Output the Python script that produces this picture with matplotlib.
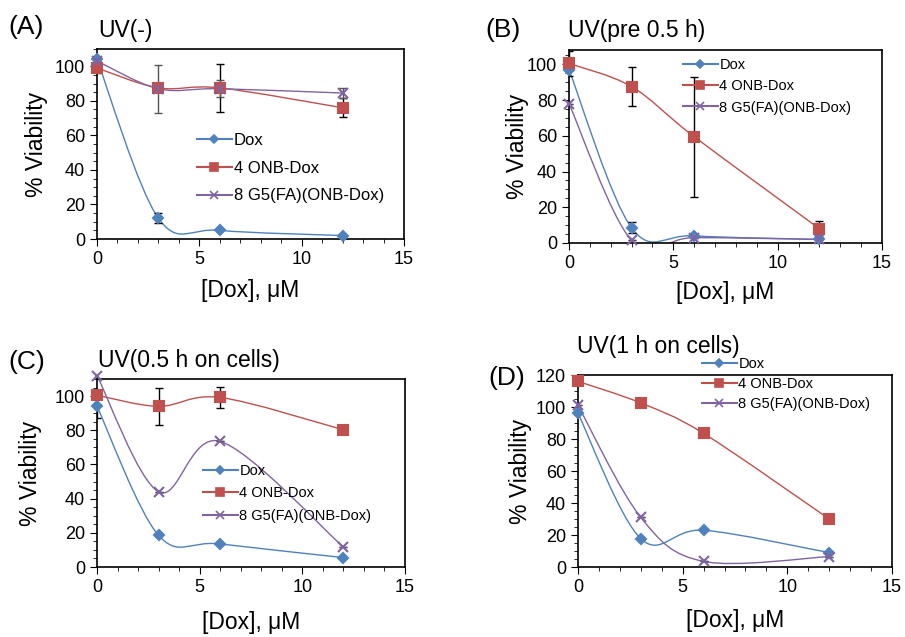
import matplotlib
matplotlib.use("Agg")
import matplotlib.pyplot as plt
from matplotlib.path import Path
from matplotlib.patches import PathPatch
from matplotlib.lines import Line2D
import matplotlib.ticker as ticker
import numpy as np

plt.rcParams['font.family'] = ['Liberation Sans', 'DejaVu Sans']

# --- data
dox_conc = [0, 3, 6, 12]

a_dox = [104, 12, 5, 2]
a_dox_err = [0, 3, 0, 0]
a_onb = [99, 87.5, 87.5, 76]
a_onb_err = [3, 0, 14, 5.5]
a_g5 = [103, 87, 87, 84.5]
a_g5_err = [0, 14, 5, 3]

b_dox = [97, 8.5, 4, 2]
b_dox_err = [0, 3, 0, 0]
b_onb = [100.5, 87.5, 59.5, 8]
b_onb_err = [7, 11, 33.5, 4.5]
b_g5 = [78, 1.5, 3, 2]
b_g5_err = [0, 0, 0, 0]

c_dox = [94, 18.5, 13.5, 5.5]
c_dox_err = [7, 0, 0, 0]
c_onb = [100.5, 94, 99.2, 80.3]
c_onb_err = [0, 11, 6, 0]
c_g5 = [112, 44, 73.5, 11.7]
c_g5_err = [0, 0, 0, 0]

d_dox = [96, 17.7, 23, 9]
d_dox_err = [0, 0, 0, 0]
d_onb = [116, 102.5, 83.5, 30]
d_onb_err = [0, 0, 0, 0]
d_g5 = [101, 31, 3.5, 6.5]
d_g5_err = [0, 0, 0, 0]

labels = ["Dox", "4 ONB-Dox", "8 G5(FA)(ONB-Dox)"]
colors = ["#4F81BD", "#C0504D", "#8064A2"]
err_colors = ["black", "black", "#555555"]
markers = ["D", "s", "x"]
msizes = [5, 7, 7]

W, H = 905, 637
fig = plt.figure(figsize=(9.05, 6.37), dpi=100)


def smooth_patch(ax, xs, ys, xmax, ymax, color):
    # Excel-like smoothed line (cubic Bezier through the points)
    w = ax.get_position().width * W
    h = ax.get_position().height * H
    px = np.array(xs, float) / xmax * w
    py = np.array(ys, float) / ymax * h
    n = len(px)
    verts = [(px[0], py[0])]
    codes = [Path.MOVETO]
    for i in range(n - 1):
        i0 = max(i - 1, 0)
        i3 = min(i + 2, n - 1)
        c1 = (px[i] + (px[i + 1] - px[i0]) / 6, py[i] + (py[i + 1] - py[i0]) / 6)
        c2 = (px[i + 1] - (px[i3] - px[i]) / 6, py[i + 1] - (py[i3] - py[i]) / 6)
        verts += [c1, c2, (px[i + 1], py[i + 1])]
        codes += [Path.CURVE4] * 3
    verts = [(vx / w * xmax, vy / h * ymax) for vx, vy in verts]
    ax.add_patch(PathPatch(Path(verts, codes), fill=False, ec=color, lw=1.0, zorder=2))


def panel(rect, series, errs, ymax, ystep, tag, tag_xy, title, title_xy,
          leg_xy, leg_fs, leg_space, xlab_y, ylab_x):
    ax = fig.add_axes(rect)
    ax.set_xlim(0, 15)
    ax.set_ylim(0, ymax)
    for ys, es, c, ec, m, ms in zip(series, errs, colors, err_colors, markers, msizes):
        smooth_patch(ax, dox_conc, ys, 15, ymax, c)
        ax.errorbar(dox_conc, ys, yerr=es, fmt="none", ecolor=ec,
                    elinewidth=1, capsize=3, zorder=3)
        ax.plot(dox_conc, ys, ls="none", marker=m, ms=ms, color=c,
                mec=c, mew=1.5, zorder=4, clip_on=False)
    ax.xaxis.set_major_locator(ticker.MultipleLocator(5))
    ax.xaxis.set_minor_locator(ticker.MultipleLocator(1))
    ax.yaxis.set_major_locator(ticker.MultipleLocator(ystep))
    ax.yaxis.set_minor_locator(ticker.MultipleLocator(ystep / 4))
    ax.tick_params(which="both", direction="out", labelsize=13, color="black")
    ax.tick_params(which="major", length=5)
    ax.tick_params(which="minor", length=3)
    for s in ax.spines.values():
        s.set_linewidth(1.2)
    handles = [Line2D([], [], color=c, marker=m, ms=ms - 1, mew=1.2)
               for c, m, ms in zip(colors, markers, msizes)]
    fig.legend(handles, labels, loc="upper left",
               bbox_to_anchor=(leg_xy[0] / W, 1 - leg_xy[1] / H),
               frameon=False, fontsize=leg_fs, handlelength=35 / (leg_fs * 1.389),
               handletextpad=0.1, labelspacing=leg_space, borderpad=0,
               borderaxespad=0)
    fig.text(tag_xy[0] / W, 1 - tag_xy[1] / H, tag, fontsize=19, ha="left", va="center")
    fig.text(title_xy[0] / W, 1 - title_xy[1] / H, title, fontsize=16.5, ha="left", va="center")
    fig.text(rect[0] + rect[2] / 2, 1 - xlab_y / H, "[Dox], μM", fontsize=16.5,
             ha="center", va="center")
    fig.text(ylab_x / W, rect[1] + rect[3] / 2, "% Viability", fontsize=16.5,
             rotation=90, ha="center", va="center")
    return ax


panel([97 / W, 1 - 239 / H, 307 / W, 190 / H],
      [a_dox, a_onb, a_g5], [a_dox_err, a_onb_err, a_g5_err], 110, 20,
      "(A)", (8, 27), "UV(-)", (98, 30), (197, 133), 12, 0.76, 290, 36)

panel([569 / W, 1 - 243 / H, 313 / W, 193 / H],
      [b_dox, b_onb, b_g5], [b_dox_err, b_onb_err, b_g5_err], 108, 20,
      "(B)", (485, 30), "UV(pre 0.5 h)", (568, 30), (683, 58), 10.5, 0.5, 292, 517)

panel([97 / W, 1 - 567 / H, 308 / W, 188 / H],
      [c_dox, c_onb, c_g5], [c_dox_err, c_onb_err, c_g5_err], 110, 20,
      "(C)", (8, 362), "UV(0.5 h on cells)", (98, 360), (203, 464), 10.5, 0.58, 622, 30)

panel([578 / W, 1 - 567 / H, 314 / W, 192 / H],
      [d_dox, d_onb, d_g5], [d_dox_err, d_onb_err, d_g5_err], 120, 20,
      "(D)", (488, 378), "UV(1 h on cells)", (577, 347), (702, 357), 10.5, 0.4, 620, 520)

plt.savefig("out.png", dpi=100, facecolor="white")
